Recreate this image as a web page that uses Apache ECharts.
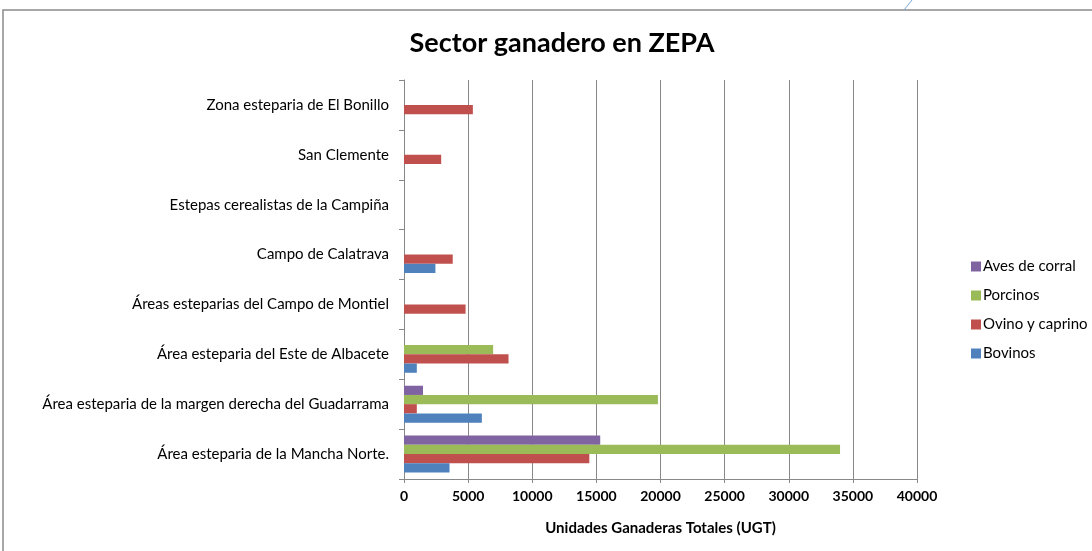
<!DOCTYPE html>
<html>
<head>
<meta charset="utf-8">
<script src="https://cdn.jsdelivr.net/npm/echarts@6/dist/echarts.min.js"></script>
<style>
  html, body { margin: 0; padding: 0; background: #fff; }
  #main { width: 1092px; height: 551px; }
</style>
</head>
<body>
<div id="main"></div>
<script>
// zonas, de abajo arriba como en el eje
const zonas = [
  'Área esteparia de la Mancha Norte.',
  'Área esteparia de la margen derecha del Guadarrama',
  'Área esteparia del Este de Albacete',
  'Áreas esteparias del Campo de Montiel',
  'Campo de Calatrava',
  'Estepas cerealistas de la Campiña',
  'San Clemente',
  'Zona esteparia de El Bonillo'
];
const bovinos = [3550, 6070, 1000, 0, 2450, 0, 0, 0];
const ovinoCaprino = [14450, 1000, 8150, 4800, 3800, 0, 2900, 5370];
const porcinos = [34000, 19800, 6950, 0, 0, 0, 0, 0];
const avesCorral = [15300, 1480, 0, 0, 0, 0, 0, 0];
const ticksX = [0, 5000, 10000, 15000, 20000, 25000, 30000, 35000, 40000];

const chart = echarts.init(document.getElementById('main'));
const fuente = 'Lato';

function serie(nombre, datos, color) {
  return {
    name: nombre,
    type: 'bar',
    data: datos,
    barGap: '0%',
    barCategoryGap: '26%',
    itemStyle: { color: color },
    emphasis: { disabled: true }
  };
}

const option = {
  animation: false,
  textStyle: { fontFamily: fuente },
  title: {
    text: 'Sector ganadero en ZEPA',
    left: 557,
    top: 25,
    textAlign: 'center',
    textStyle: { fontFamily: fuente, fontSize: 27, fontWeight: 'bold', color: '#000' }
  },
  legend: {
    orient: 'vertical',
    left: 966,
    top: 254,
    itemGap: 14,
    itemWidth: 10,
    itemHeight: 10,
    icon: 'rect',
    data: ['Aves de corral', 'Porcinos', 'Ovino y caprino', 'Bovinos'],
    textStyle: { fontFamily: fuente, fontSize: 15, color: '#000', padding: [0, 0, 0, -3] }
  },
  grid: { left: 404, top: 80, right: 175, bottom: 72, containLabel: false },
  xAxis: {
    type: 'value',
    min: ticksX[0],
    max: ticksX[ticksX.length - 1],
    interval: 5000,
    name: 'Unidades Ganaderas Totales (UGT)',
    nameLocation: 'middle',
    nameGap: 42,
    nameTextStyle: { fontFamily: fuente, fontSize: 15, fontWeight: 'bold', color: '#000' },
    axisLine: { show: true, lineStyle: { color: '#888' } },
    axisTick: { show: true, length: 4, lineStyle: { color: '#888' } },
    axisLabel: { fontFamily: fuente, fontSize: 14, fontWeight: 'bold', color: '#000', margin: 10,
      formatter: v => String(v) },
    splitLine: { show: true, lineStyle: { color: '#888', width: 1 } }
  },
  yAxis: {
    type: 'category',
    data: zonas,
    axisLine: { show: true, lineStyle: { color: '#888' } },
    axisTick: { show: true, length: 5, lineStyle: { color: '#888' } },
    axisLabel: { fontFamily: fuente, fontSize: 15, color: '#000', margin: 15 },
    splitLine: { show: false }
  },
  // en horizontal la primera serie queda arriba: se apilan al revés
  series: [
    serie('Aves de corral', avesCorral, '#8064A2'),
    serie('Porcinos', porcinos, '#9BBB59'),
    serie('Ovino y caprino', ovinoCaprino, '#C0504D'),
    serie('Bovinos', bovinos, '#4F81BD')
  ],
  graphic: [
    {
      type: 'polyline',
      shape: { points: [[3, 551], [3, 10], [1092, 10]] },
      style: { stroke: '#8a8a8a', lineWidth: 1.5, fill: null },
      silent: true
    },
    {
      type: 'line',
      shape: { x1: 904, y1: 10, x2: 912, y2: 0 },
      style: { stroke: '#7aa6d8', lineWidth: 1 },
      silent: true
    }
  ]
};

chart.setOption(option);
</script>
</body>
</html>
